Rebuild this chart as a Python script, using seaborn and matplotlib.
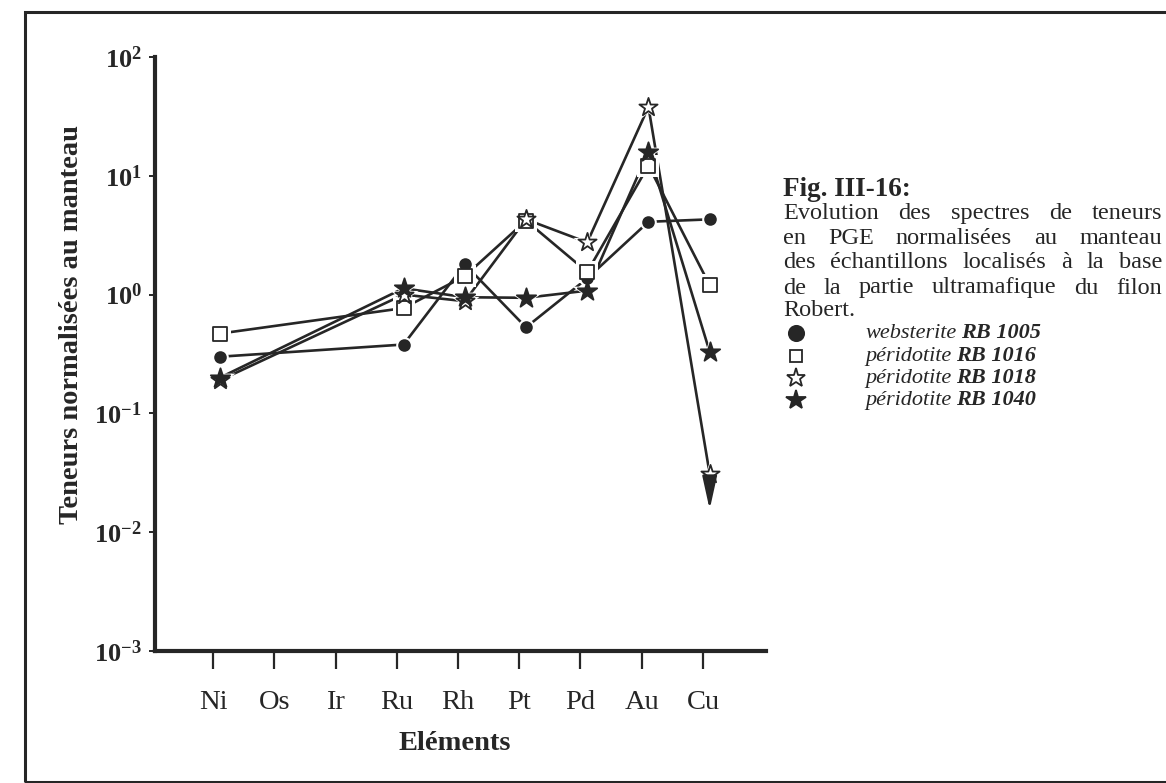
import numpy as np
import pandas as pd
import matplotlib
matplotlib.use("Agg")
import matplotlib.pyplot as plt
import seaborn as sns
from matplotlib.lines import Line2D
from matplotlib.patches import Rectangle

# Mantle-normalised PGE contents (NaN = not analysed)
elements = ["Ni", "Os", "Ir", "Ru", "Rh", "Pt", "Pd", "Au", "Cu"]
websterite_rb1005 = [0.30, np.nan, np.nan, 0.38, 1.80, 0.53, 1.37, 4.1, 4.3]
peridotite_rb1016 = [0.47, np.nan, np.nan, 0.77, 1.43, 4.2, 1.55, 12.2, 1.2]
peridotite_rb1018 = [0.19, np.nan, np.nan, 1.00, 0.88, 4.3, 2.75, 38.0, 0.031]
peridotite_rb1040 = [0.20, np.nan, np.nan, 1.13, 0.95, 0.94, 1.08, 16.0, 0.33]
series_names = ["websterite RB 1005", "péridotite RB 1016",
                "péridotite RB 1018", "péridotite RB 1040"]
# detection-limit arrow for RB 1018 at Cu (value is an upper bound)
cu_limit_arrow_tip = 0.0155

y_ticks = [1e-3, 1e-2, 1e-1, 1e0, 1e1, 1e2]
y_tick_labels = [r"$\mathbf{10^{-3}}$", r"$\mathbf{10^{-2}}$", r"$\mathbf{10^{-1}}$",
                 r"$\mathbf{10^{0}}$", r"$\mathbf{10^{1}}$", r"$\mathbf{10^{2}}$"]

caption_title = "Fig. III-16:"
caption_lines = ["Evolution des spectres de teneurs",
                 "en PGE normalisées au manteau",
                 "des échantillons localisés à la base",
                 "de la partie ultramafique du filon",
                 "Robert."]

df = pd.DataFrame({"element": elements, "pos": np.arange(len(elements)),
                   series_names[0]: websterite_rb1005,
                   series_names[1]: peridotite_rb1016,
                   series_names[2]: peridotite_rb1018,
                   series_names[3]: peridotite_rb1040})
long_df = df.melt(id_vars=["element", "pos"], var_name="sample",
                  value_name="value").dropna()

sns.set_style("ticks")
plt.rcParams["font.family"] = ["Liberation Serif", "DejaVu Serif"]
plt.rcParams["mathtext.fontset"] = "custom"
plt.rcParams["mathtext.rm"] = "Liberation Serif"
plt.rcParams["mathtext.bf"] = "Liberation Serif:bold"
plt.rcParams["mathtext.it"] = "Liberation Serif:italic"

ink = "#262626"
W, H = 1166, 783
fig = plt.figure(figsize=(W / 100, H / 100), dpi=100)
fig.patch.set_facecolor("white")
ax = fig.add_axes([155 / W, 1 - 651 / H, (766 - 155) / W, (651 - 57) / H])

styles = {
    series_names[0]: dict(marker="o", s=60, fc=ink, ec=ink),
    series_names[1]: dict(marker="s", s=100, fc="white", ec=ink),
    series_names[2]: dict(marker="*", s=190, fc="white", ec=ink),
    series_names[3]: dict(marker="*", s=215, fc=ink, ec=ink),
}

for name in series_names:
    sub = long_df[long_df["sample"] == name]
    sns.lineplot(data=sub, x="pos", y="value", ax=ax, color=ink, lw=1.9,
                 estimator=None, sort=False, zorder=2, legend=False)

for name in series_names:
    sub = long_df[long_df["sample"] == name]
    st = styles[name]
    # white halo so the joining lines stop short of each symbol
    sns.scatterplot(data=sub, x="pos", y="value", ax=ax, marker=st["marker"],
                    s=st["s"] * 2.4, color="white", edgecolor="white",
                    linewidth=0, zorder=3, legend=False)
for name in series_names:
    sub = long_df[long_df["sample"] == name]
    st = styles[name]
    sns.scatterplot(data=sub, x="pos", y="value", ax=ax, marker=st["marker"],
                    s=st["s"], color=st["fc"], edgecolor=st["ec"],
                    linewidth=1.3, zorder=4, legend=False)

# arrow below the Cu upper bound of RB 1018
cu_pos = elements.index("Cu")
ax.annotate("", xy=(cu_pos, cu_limit_arrow_tip),
            xytext=(cu_pos, peridotite_rb1018[cu_pos] * 0.78),
            arrowprops=dict(arrowstyle="-|>,head_length=1.0,head_width=0.22",
                            mutation_scale=20, lw=1.9, color=ink,
                            shrinkA=0, shrinkB=0), zorder=5)

ax.set_yscale("log")
ax.set_ylim(1e-3, 1e2)
ax.set_xlim(-1.06, 8.92)
ax.set_yticks(y_ticks)
ax.set_yticklabels(y_tick_labels)
ax.yaxis.set_minor_locator(matplotlib.ticker.NullLocator())
ax.set_xticks(np.arange(len(elements)) - 0.11)
ax.set_xticklabels(elements)

ax.tick_params(axis="x", direction="out", length=13, width=1.6, pad=15,
               labelsize=20.5, colors=ink)
ax.tick_params(axis="y", direction="out", length=4.5, width=1.4, pad=5,
               labelsize=19, colors=ink)

sns.despine(ax=ax)
for side in ("left", "bottom"):
    ax.spines[side].set_linewidth(3.0)
    ax.spines[side].set_color(ink)

ax.set_xlabel("Eléments", fontsize=20.5, fontweight="bold", color=ink)
ax.xaxis.set_label_coords((455 - 155) / 611, (651 - 731) / 594)
ax.set_ylabel("Teneurs normalisées au manteau", fontsize=20.5,
              fontweight="bold", color=ink)
ax.yaxis.set_label_coords((84 - 155) / 611, (651 - 325) / 594)

# page frame
fig.patches.append(Rectangle((25 / W, 1 / H), 1.2, (782 - 12) / H,
                             transform=fig.transFigure, fill=False,
                             lw=2.2, ec=ink, clip_on=False))

# caption block, justified between x0 and right_edge
fig.canvas.draw()
renderer = fig.canvas.get_renderer()
x0 = 783
fig.text(x0 / W, 1 - 190 / H, caption_title, fontsize=19.5, fontweight="bold",
         color=ink, ha="left", va="center")

cap_size = 17.5
right_edge = 1162
line_y = [213, 238, 263, 288, 311]


def word_widths(words, size):
    out = []
    for w in words:
        t = fig.text(0, 0, w, fontsize=size)
        out.append(t.get_window_extent(renderer).width)
        t.remove()
    return out


for i, (line, yy) in enumerate(zip(caption_lines, line_y)):
    words = line.split()
    if i == len(caption_lines) - 1:
        fig.text(x0 / W, 1 - yy / H, line, fontsize=cap_size, color=ink,
                 ha="left", va="center")
        continue
    size = cap_size
    widths = word_widths(words, size)
    # keep at least a small word space on the tightest lines
    while (right_edge - x0 - sum(widths)) / (len(words) - 1) < 4.5:
        size -= 0.25
        widths = word_widths(words, size)
    gap = (right_edge - x0 - sum(widths)) / (len(words) - 1)
    xx = x0
    for w, wd in zip(words, widths):
        fig.text(xx / W, 1 - yy / H, w, fontsize=size, color=ink,
                 ha="left", va="center")
        xx += wd + gap

# key
key_y = [333, 356, 378, 400]
key_markers = [("o", ink, 11), ("s", "white", 9), ("*", "white", 14), ("*", ink, 15)]
for name, yy, (mk, fc, ms) in zip(series_names, key_y, key_markers):
    fig.add_artist(Line2D([796 / W], [1 - yy / H], marker=mk, ms=ms, mfc=fc,
                          mec=ink, mew=1.3, ls="none",
                          transform=fig.transFigure))
    rock, code = name.split(" ", 1)
    t = fig.text(865 / W, 1 - yy / H, rock, fontsize=16, style="italic",
                 color=ink, ha="left", va="center")
    bb = t.get_window_extent(renderer)
    fig.text((bb.x1 + 5) / W, 1 - yy / H, code, fontsize=16, style="italic",
             fontweight="bold", color=ink, ha="left", va="center")

fig.savefig("out.png", dpi=100, facecolor="white")
